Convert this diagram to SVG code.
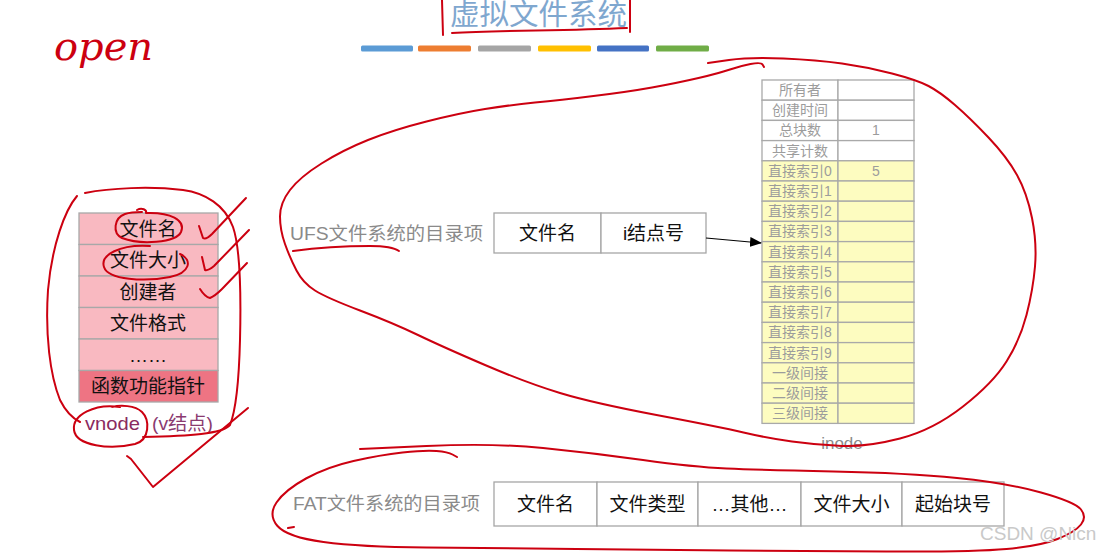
<svg xmlns="http://www.w3.org/2000/svg" width="1109" height="553" viewBox="0 0 1109 553">
<style>
.cjk{font-family:"Liberation Sans","Noto Sans CJK SC",sans-serif}
.cell{fill:#fff;stroke:#a6a6a6;stroke-width:1.3}
.vcell{fill:#f9b9c1;stroke:#a8a8a8;stroke-width:1.3}
.vcell2{fill:#ee7483;stroke:#a8a8a8;stroke-width:1.3}
.icw{fill:#ffffff;stroke:#a9a9a9;stroke-width:1.3}
.icy{fill:#fdfcc0;stroke:#a9a9a9;stroke-width:1.3}
.t19{font-size:19px;fill:#111;text-anchor:middle}
.it{font-size:14px;fill:#9c9c9c;text-anchor:middle}
.gl{font-size:18.5px;fill:#8a8a8a}
.ink{fill:none;stroke:#cc0010;stroke-width:2;stroke-linecap:round;stroke-linejoin:round}
</style>
<defs>
<marker id="ah" markerWidth="12" markerHeight="10" refX="11" refY="5" orient="auto" markerUnits="userSpaceOnUse">
<path d="M0,0 L12,5 L0,10 Z" fill="#000"/>
</marker>
</defs>
<rect width="1109" height="553" fill="#fff"/>

<g id="title">
<text x="450" y="25" class="cjk" font-size="29" fill="#7fa7cf" textLength="177" lengthAdjust="spacingAndGlyphs">虚拟文件系统</text>
<rect x="361" y="45.5" width="52" height="6" rx="1.5" fill="#5b9bd5"/>
<rect x="418" y="45.5" width="53" height="6" rx="1.5" fill="#ed7d31"/>
<rect x="478" y="45.5" width="53" height="6" rx="1.5" fill="#a5a5a5"/>
<rect x="538" y="45.5" width="53" height="6" rx="1.5" fill="#ffc000"/>
<rect x="597" y="45.5" width="52" height="6" rx="1.5" fill="#4472c4"/>
<rect x="656" y="45.5" width="53" height="6" rx="1.5" fill="#70ad47"/>
</g>

<g id="vnode">
<rect class="vcell" x="79" y="213" width="139" height="31.5"/>
<rect class="vcell" x="79" y="244.5" width="139" height="31.5"/>
<rect class="vcell" x="79" y="276" width="139" height="31.5"/>
<rect class="vcell" x="79" y="307.5" width="139" height="31.5"/>
<rect class="vcell" x="79" y="339" width="139" height="31.5"/>
<rect class="vcell2" x="79" y="370.5" width="139" height="31.5"/>
<g class="cjk t19">
<text x="148" y="235.5">文件名</text>
<text x="148" y="267">文件大小</text>
<text x="148" y="298.5">创建者</text>
<text x="148" y="330">文件格式</text>
<text x="148" y="361.5">……</text>
<text x="148" y="393">函数功能指针</text>
</g>
<text x="85" y="430" class="cjk" font-size="19" fill="#8a2a60" textLength="55" lengthAdjust="spacingAndGlyphs">vnode</text>
<text x="152" y="430" class="cjk" font-size="19" fill="#8a3a70" textLength="61" lengthAdjust="spacingAndGlyphs">(v结点)</text>
</g>

<g id="ufs">
<text x="290" y="240" class="cjk gl" textLength="193" lengthAdjust="spacingAndGlyphs">UFS文件系统的目录项</text>
<rect class="cell" x="494" y="213" width="107" height="40"/>
<rect class="cell" x="601" y="213" width="105" height="40"/>
<text x="547.5" y="240" class="cjk t19">文件名</text>
<text x="653.5" y="240" class="cjk t19">i结点号</text>
</g>

<g id="inode">
<rect class="icw" x="762" y="80" width="76" height="20.2"/><rect class="icw" x="838" y="80" width="76" height="20.2"/>
<rect class="icw" x="762" y="100.2" width="76" height="20.2"/><rect class="icw" x="838" y="100.2" width="76" height="20.2"/>
<rect class="icw" x="762" y="120.4" width="76" height="20.2"/><rect class="icw" x="838" y="120.4" width="76" height="20.2"/>
<rect class="icw" x="762" y="140.6" width="76" height="20.2"/><rect class="icw" x="838" y="140.6" width="76" height="20.2"/>
<rect class="icy" x="762" y="160.8" width="76" height="20.2"/><rect class="icy" x="838" y="160.8" width="76" height="20.2"/>
<rect class="icy" x="762" y="181" width="76" height="20.2"/><rect class="icy" x="838" y="181" width="76" height="20.2"/>
<rect class="icy" x="762" y="201.2" width="76" height="20.2"/><rect class="icy" x="838" y="201.2" width="76" height="20.2"/>
<rect class="icy" x="762" y="221.4" width="76" height="20.2"/><rect class="icy" x="838" y="221.4" width="76" height="20.2"/>
<rect class="icy" x="762" y="241.6" width="76" height="20.2"/><rect class="icy" x="838" y="241.6" width="76" height="20.2"/>
<rect class="icy" x="762" y="261.8" width="76" height="20.2"/><rect class="icy" x="838" y="261.8" width="76" height="20.2"/>
<rect class="icy" x="762" y="282" width="76" height="20.2"/><rect class="icy" x="838" y="282" width="76" height="20.2"/>
<rect class="icy" x="762" y="302.2" width="76" height="20.2"/><rect class="icy" x="838" y="302.2" width="76" height="20.2"/>
<rect class="icy" x="762" y="322.4" width="76" height="20.2"/><rect class="icy" x="838" y="322.4" width="76" height="20.2"/>
<rect class="icy" x="762" y="342.6" width="76" height="20.2"/><rect class="icy" x="838" y="342.6" width="76" height="20.2"/>
<rect class="icy" x="762" y="362.8" width="76" height="20.2"/><rect class="icy" x="838" y="362.8" width="76" height="20.2"/>
<rect class="icy" x="762" y="383" width="76" height="20.2"/><rect class="icy" x="838" y="383" width="76" height="20.2"/>
<rect class="icy" x="762" y="403.2" width="76" height="20.2"/><rect class="icy" x="838" y="403.2" width="76" height="20.2"/>
<g class="cjk it">
<text x="800" y="95">所有者</text>
<text x="800" y="115.2">创建时间</text>
<text x="800" y="135.4">总块数</text><text x="876" y="135.4">1</text>
<text x="800" y="155.6">共享计数</text>
<text x="800" y="175.8">直接索引0</text><text x="876" y="175.8">5</text>
<text x="800" y="196">直接索引1</text>
<text x="800" y="216.2">直接索引2</text>
<text x="800" y="236.4">直接索引3</text>
<text x="800" y="256.6">直接索引4</text>
<text x="800" y="276.8">直接索引5</text>
<text x="800" y="297">直接索引6</text>
<text x="800" y="317.2">直接索引7</text>
<text x="800" y="337.4">直接索引8</text>
<text x="800" y="357.6">直接索引9</text>
<text x="800" y="377.8">一级间接</text>
<text x="800" y="398">二级间接</text>
<text x="800" y="418.2">三级间接</text>
</g>
<text x="842" y="449" class="cjk" font-size="17" fill="#8a8a8a" text-anchor="middle">inode</text>
</g>

<g id="fat">
<text x="293" y="510" class="cjk gl" textLength="187" lengthAdjust="spacingAndGlyphs">FAT文件系统的目录项</text>
<rect class="cell" x="494" y="482" width="103" height="44"/>
<rect class="cell" x="597" y="482" width="101" height="44"/>
<rect class="cell" x="698" y="482" width="103" height="44"/>
<rect class="cell" x="801" y="482" width="101" height="44"/>
<rect class="cell" x="902" y="482" width="102" height="44"/>
<g class="cjk t19">
<text x="545.5" y="511">文件名</text>
<text x="647.5" y="511">文件类型</text>
<text x="749.5" y="511">…其他…</text>
<text x="851.5" y="511">文件大小</text>
<text x="953" y="511">起始块号</text>
</g>
</g>

<g id="connectors">
<line x1="706" y1="238" x2="761" y2="243" stroke="#000" stroke-width="1.2" marker-end="url(#ah)"/>
</g>

<g id="annotations">
<text x="54" y="60" font-family="DejaVu Serif" font-style="italic" font-size="40" fill="#cc0010">open</text>
<path class="ink" d="M442,0 L443,35 M452,33 C500,30 560,31 627,28 M630,0 L630,32"/>
<path class="ink" d="M764,67 L762.5,64.5 Q761,62 750.5,64 Q740,66 730,69.5 Q720,73 698.5,78 Q677,83 652,87.5 Q627,92 593.5,96 Q560,100 535,102.5 Q510,105 485,109 Q460,113 426.5,121.5 Q393,130 368,140 Q343,150 321.5,163.5 Q300,177 290,190 Q280,203 280,216.5 Q280,230 285,244 Q290,258 296.5,270.5 Q303,283 315,290.5 Q327,298 360,310.5 Q393,323 418,335 Q443,347 485,365 Q527,383 560,393 Q593,403 656.5,415 Q720,427 743.5,432.5 Q767,438 792,441.5 Q817,445 842,446 Q867,447 900,438.5 Q933,430 963,406.5 Q993,383 1006.5,361.5 Q1020,340 1026.5,315 Q1033,290 1035,266.5 Q1037,243 1032,218 Q1027,193 1017,175 Q1007,157 988.5,137.5 Q970,118 955,105 Q940,92 928.5,86 Q917,80 892,73.5 Q867,67 842,63.5 Q817,60 783.5,58.5 Q750,57 729,60 L708,63"/>
<path class="ink" d="M293,251 Q330,246 370,246 Q392,246 399,251"/>
<path class="ink" d="M457,457 L452.5,454.5 Q448,452 436.5,451 Q425,450 402.5,452.5 Q380,455 353.5,461 Q327,467 306,478.5 Q285,490 276.5,502.5 Q268,515 277.5,526 Q287,537 323.5,542 Q360,547 426.5,547.5 Q493,548 576.5,549 Q660,550 730,550.5 Q800,551 886.5,551.5 Q973,552 1006.5,549 Q1040,546 1057.5,539 Q1075,532 1081,524.5 Q1087,517 1081,509.5 Q1075,502 1041,492.5 Q1007,483 957,478 Q907,473 833.5,471.5 Q760,470 726.5,468.5 Q693,467 643,460 Q593,453 543,448 Q493,443 426.5,446 L360,449"/>
<path class="ink" d="M288,528 L294,527"/>
<path class="ink" d="M77,196 C65,210 52,245 48,290 C45,335 50,375 60,400 C66,412 72,418 80,422"/>
<path class="ink" d="M85,193 C110,188 150,186 183,190 C205,193 225,205 233,227 C241,250 241,300 240,340 C239,380 236,410 230,425 C222,434 190,436 143,437"/>
<path class="ink" d="M127,456 L131,459 L153,487 L248,408"/>
<path class="ink" d="M120,407 C95,403 72,415 74,430 C76,446 110,450 135,444 C150,440 150,420 142,412 C135,405 120,405 112,407"/>
<path class="ink" d="M137,210 C142,207 147,210 146,213 C170,212 186,220 181,232 C176,243 140,245 122,238 C112,233 114,218 125,214 C131,212 136,212 142,212"/>
<path class="ink" d="M150,246 C120,244 100,255 104,267 C108,280 145,282 170,277 C190,273 193,260 180,254"/>
<path class="ink" d="M199,226 L203,238 Q206,240 212,234 L246,198"/>
<path class="ink" d="M202,257 L205,270 Q208,271 214,266 L249,230"/>
<path class="ink" d="M200,289 Q205,297 210,298 Q215,296 222,289 L247,263"/>
</g>

<text x="980" y="540" font-family="Liberation Sans" font-size="19" fill="#c9c9c9">CSDN @Nicn</text>
</svg>
